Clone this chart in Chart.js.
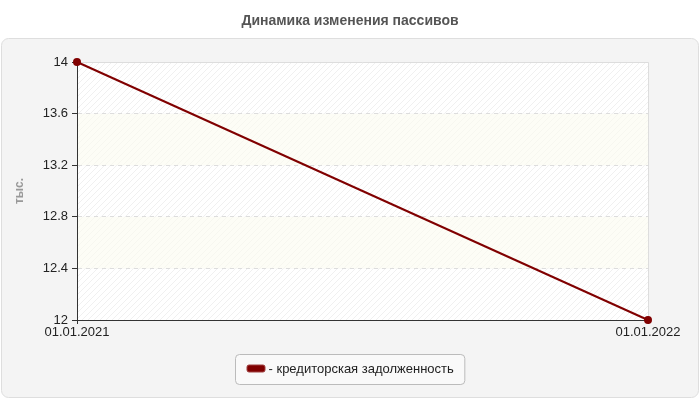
<!DOCTYPE html>
<html><head><meta charset="utf-8">
<script src="https://cdn.jsdelivr.net/npm/chart.js@4/dist/chart.umd.min.js"></script>
<style>html,body{margin:0;padding:0;background:#fff;}#wrap{width:700px;height:400px;}</style>
</head><body><div id="wrap"><canvas id="c" width="700" height="400"></canvas></div>
<script>
const categories = ['01.01.2021', '01.01.2022'];
const seriesValues = [14, 12];
const seriesLabel = 'кредиторская задолженность';
const seriesColor = '#800000';
const yTicks = [12, 12.4, 12.8, 13.2, 13.6, 14];
const chartTitle = 'Динамика изменения пассивов';
const yTitle = 'тыс.';

const FONT = '"Liberation Sans", Arial, sans-serif';

function makePattern(ctx, bg, alpha){
  const p = document.createElement('canvas'); p.width = 6; p.height = 6;
  const g = p.getContext('2d');
  g.fillStyle = bg; g.fillRect(0,0,6,6);
  g.strokeStyle = 'rgba(0,0,0,' + alpha + ')'; g.lineWidth = 1;
  g.beginPath(); g.moveTo(-1,7); g.lineTo(7,-1); g.stroke();
  g.beginPath(); g.moveTo(5,7); g.lineTo(7,5); g.stroke();
  g.beginPath(); g.moveTo(-1,1); g.lineTo(1,-1); g.stroke();
  return ctx.createPattern(p,'repeat');
}

const bgPlugin = {
  id:'bg',
  beforeDraw(chart){
    const ctx = chart.ctx, a = chart.chartArea, y = chart.scales.y;
    ctx.save();
    ctx.beginPath();
    ctx.roundRect(1.5, 38.5, 697, 359, 7);
    ctx.fillStyle = '#f4f4f4'; ctx.fill();
    ctx.strokeStyle = '#dedede'; ctx.lineWidth = 1; ctx.stroke();
    const pw = makePattern(ctx, '#ffffff', 0.06);
    const py = makePattern(ctx, '#fdfdf6', 0.025);
    for (let i = 0; i < yTicks.length - 1; i++){
      const y0 = y.getPixelForValue(yTicks[i]), y1 = y.getPixelForValue(yTicks[i+1]);
      ctx.fillStyle = (i % 2 === 0) ? pw : py;
      ctx.fillRect(a.left, y1, a.right - a.left, y0 - y1);
    }
    ctx.strokeStyle = '#dddddd';
    ctx.beginPath();
    ctx.moveTo(a.left, Math.round(a.top)+0.5); ctx.lineTo(Math.round(a.right)+0.5, Math.round(a.top)+0.5);
    ctx.lineTo(Math.round(a.right)+0.5, a.bottom);
    ctx.stroke();
    ctx.restore();
  },
  afterDraw(chart){
    const ctx = chart.ctx;
    const ds = chart.data.datasets[0];
    ctx.save();
    ctx.font = '13px ' + FONT;
    const text = '- ' + ds.label;
    const tw = ctx.measureText(text).width;
    const sw = 18, gap = 4, padX = 11;
    const w = padX*2 + sw + gap + tw, h = 30;
    const x = Math.round(350 - w/2) + 0.5, yTop = 354.5;
    ctx.beginPath(); ctx.roundRect(x, yTop, w, h, 4);
    ctx.fillStyle = '#f9f9f9'; ctx.fill();
    ctx.strokeStyle = '#bbbbbb'; ctx.lineWidth = 1; ctx.stroke();
    ctx.beginPath(); ctx.roundRect(x + padX + 0.5, 365, sw, 7, 2);
    ctx.fillStyle = ds.borderColor; ctx.fill();
    ctx.strokeStyle = '#a04040'; ctx.stroke();
    ctx.fillStyle = '#222'; ctx.textBaseline = 'middle';
    ctx.fillText(text, x + padX + sw + gap, 369);
    ctx.restore();
  }
};

new Chart(document.getElementById('c'), {
  type:'line',
  data:{ labels: categories, datasets:[{
    label: seriesLabel, data: seriesValues, borderColor: seriesColor, backgroundColor: seriesColor,
    borderWidth: 2, pointRadius: 3, pointBackgroundColor: seriesColor, pointBorderColor: seriesColor,
    tension: 0, clip: false
  }]},
  plugins:[bgPlugin],
  options:{
    responsive:false, animation:false,
    layout:{ padding:{ left:0, right:0, top:0, bottom:0 } },
    plugins:{
      legend:{ display:false },
      tooltip:{ enabled:false },
      title:{ display:true, text: chartTitle, color:'#555', font:{ family:FONT, size:14, weight:'bold' }, padding:{ top:13, bottom:32.2 } }
    },
    scales:{
      x:{
        type:'category', offset:false,
        afterFit(s){ s.height = 80; },
        grid:{ drawOnChartArea:false, tickLength:4, tickColor:'#333' },
        border:{ color:'#333', width:1 },
        ticks:{ color:'#222', padding:1, maxRotation:0, font:{ family:FONT, size:13 } }
      },
      y:{
        min:12, max:14,
        afterFit(s){ s.width = 77; },
        afterBuildTicks(s){ s.ticks = yTicks.map(v => ({ value: v })); },
        grid:{ color: c => (c.tick && (c.tick.value === 14 || c.tick.value === 12)) ? 'rgba(0,0,0,0)' : '#dddddd',
               tickColor:'#333', tickLength:5, drawTicks:true, tickBorderDash:[] },
        border:{ color:'#333', width:1, dash:[4,4] },
        ticks:{ color:'#222', padding:4, font:{ family:FONT, size:13 },
                callback: v => String(Number(v.toFixed(1))) },
        title:{ display:true, text: yTitle, color:'#999', font:{ family:FONT, size:12, weight:'bold' }, padding:{ top:12, bottom:0 } }
      },
      yRight:{
        position:'right', min:12, max:14,
        afterFit(s){ s.width = 52; },
        grid:{ display:false, drawOnChartArea:false },
        border:{ display:false },
        ticks:{ display:false }
      }
    }
  }
});
</script></body></html>
